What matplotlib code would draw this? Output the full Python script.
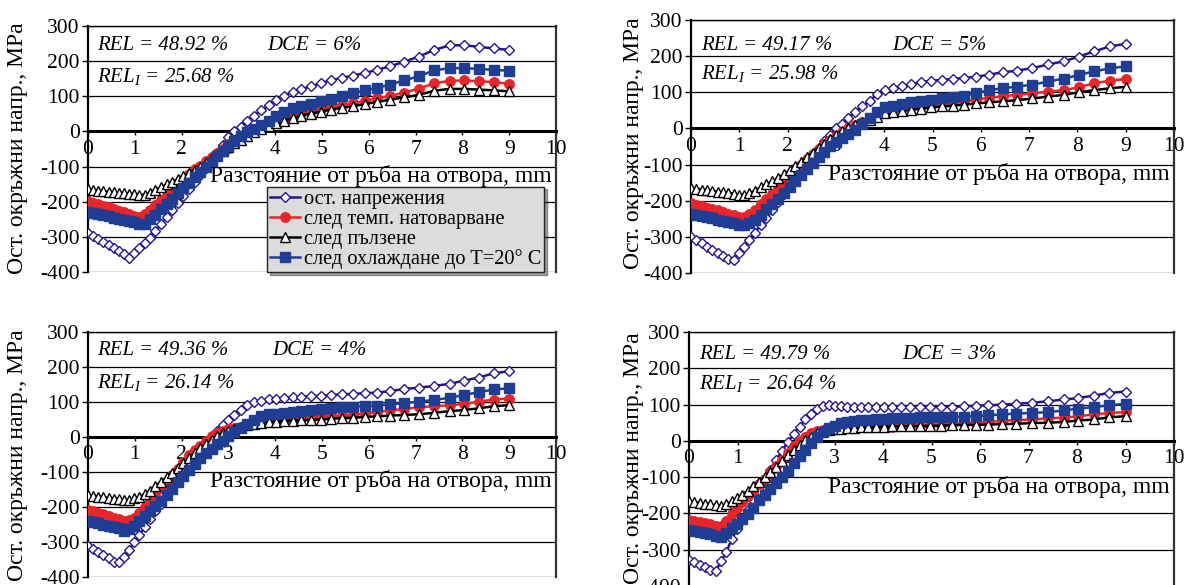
import matplotlib
matplotlib.use('Agg')
import matplotlib.pyplot as plt

plt.rcParams['font.family'] = ['Liberation Serif', 'DejaVu Serif']
plt.rcParams['mathtext.fontset'] = 'custom'
plt.rcParams['mathtext.rm'] = 'Liberation Serif'
plt.rcParams['mathtext.it'] = 'Liberation Serif:italic'
plt.rcParams['axes.unicode_minus'] = False

# distance from the hole edge, mm
x = [0.00, 0.11, 0.22, 0.33, 0.44, 0.55, 0.66, 0.77, 0.88, 0.99, 1.10, 1.21, 1.32,
     1.44, 1.56, 1.68, 1.80, 1.92, 2.04, 2.16, 2.28, 2.40, 2.52, 2.64, 2.76, 2.88, 3.00,
     3.13, 3.26, 3.40, 3.55, 3.70, 3.86, 4.02, 4.19, 4.37, 4.56, 4.76, 4.97,
     5.19, 5.42, 5.66, 5.91, 6.17, 6.45, 6.75, 7.07, 7.40, 7.73, 8.03, 8.35, 8.67, 9.00]

labels = ['ост. напрежения', 'след темп. натоварване', 'след пълзене',
          'след охлаждане до T=20° C']

# DCE = 6%
p1_ost = [-289, -297, -306, -315, -324, -332, -341, -350, -359, -346, -332, -318, -302,
          -284, -264, -244, -224, -204, -184, -164, -144, -124, -104, -82, -60, -39, -17,
          0, 14, 30, 45, 60, 74, 90, 102, 113, 121, 128, 137,
          146, 152, 159, 166, 175, 185, 198, 213, 232, 245, 245, 241, 236, 232]
p1_temp = [-198, -203, -207, -212, -216, -221, -225, -230, -235, -240, -244, -235, -223,
           -210, -196, -181, -166, -150, -134, -120, -108, -97, -85, -73, -61, -49, -37,
           -26, -16, -6, 4, 13, 22, 30, 38, 46, 52, 58, 63,
           69, 74, 80, 87, 94, 101, 110, 122, 137, 144, 145, 143, 140, 136]
p1_creep = [-165, -167, -169, -170, -172, -173, -175, -176, -178, -179, -181, -180, -174,
            -166, -158, -151, -143, -136, -128, -119, -110, -100, -89, -77, -66, -55, -44,
            -33, -23, -13, -3, 6, 15, 23, 31, 38, 45, 51, 56,
            62, 67, 72, 78, 84, 90, 97, 104, 116, 121, 121, 119, 117, 114]
p1_cool = [-230, -233, -236, -239, -242, -245, -248, -251, -255, -259, -262, -262, -250,
           -237, -222, -207, -191, -176, -160, -146, -131, -116, -101, -86, -71, -56, -41,
           -27, -14, -3, 7, 17, 30, 43, 56, 66, 73, 78, 86,
           93, 101, 108, 117, 124, 133, 145, 157, 174, 180, 180, 178, 175, 173]

# DCE = 5%
p2_ost = [-300, -309, -318, -327, -336, -345, -353, -361, -364, -345, -327, -308, -289,
          -268, -248, -226, -204, -182, -160, -138, -117, -96, -75, -55, -36, -17, 0,
          13, 30, 45, 61, 77, 95, 106, 112, 117, 123, 128, 132,
          134, 137, 140, 143, 149, 155, 160, 167, 177, 186, 199, 213, 227, 234]
p2_temp = [-207, -211, -215, -219, -223, -227, -231, -236, -240, -244, -246, -236, -226,
           -208, -196, -182, -166, -149, -132, -116, -100, -84, -70, -56, -44, -32, -20,
           -9, 1, 10, 19, 28, 40, 49, 53, 57, 60, 63, 66,
           68, 72, 76, 80, 85, 89, 93, 97, 102, 106, 114, 125, 132, 137]
p2_creep = [-165, -167, -169, -171, -173, -175, -177, -179, -181, -183, -184, -180, -172,
            -163, -155, -146, -137, -127, -116, -105, -93, -80, -67, -54, -42, -30, -18,
            -7, 2, 10, 18, 24, 33, 42, 46, 49, 52, 55, 58,
            61, 63, 66, 69, 72, 75, 78, 83, 88, 93, 100, 106, 111, 115]
p2_cool = [-237, -240, -243, -246, -249, -252, -255, -258, -262, -266, -268, -262, -254,
           -240, -224, -209, -194, -178, -161, -145, -128, -112, -96, -80, -64, -49, -37,
           -27, -16, -4, 12, 28, 45, 58, 63, 68, 73, 77, 80,
           83, 86, 91, 98, 106, 111, 116, 121, 130, 138, 148, 158, 166, 172]

# DCE = 4%
p3_ost = [-310, -319, -329, -338, -347, -357, -358, -344, -323, -301, -280, -257, -234,
          -212, -190, -167, -143, -120, -97, -77, -56, -38, -21, -2, 16, 33, 50,
          64, 78, 92, 100, 104, 108, 110, 112, 113, 115, 117, 118,
          120, 122, 123, 125, 127, 131, 137, 141, 146, 152, 161, 170, 182, 188]
p3_temp = [-208, -212, -217, -221, -226, -230, -235, -241, -238, -230, -217, -199, -183,
           -165, -146, -128, -109, -90, -70, -52, -38, -25, -12, 2, 12, 18, 22,
           26, 30, 34, 38, 41, 44, 47, 49, 51, 53, 55, 57,
           59, 61, 64, 67, 71, 76, 80, 85, 88, 91, 94, 101, 107, 110]
p3_creep = [-167, -169, -170, -172, -174, -176, -178, -180, -180, -175, -170, -163, -153,
            -141, -128, -115, -102, -89, -74, -60, -46, -32, -20, -8, 3, 12, 18,
            24, 29, 34, 38, 41, 43, 44, 46, 47, 48, 49, 50,
            52, 54, 55, 57, 59, 61, 63, 65, 69, 74, 77, 82, 88, 91]
p3_cool = [-241, -244, -247, -250, -253, -257, -261, -268, -263, -254, -240, -226, -211,
           -198, -182, -166, -148, -128, -110, -93, -76, -61, -47, -33, -21, -10, 2,
           14, 25, 38, 50, 60, 65, 67, 69, 71, 73, 76, 79,
           82, 85, 87, 88, 90, 93, 97, 101, 106, 112, 120, 128, 136, 139]

# DCE = 3%
p4_ost = [-327, -334, -341, -348, -355, -360, -332, -306, -271, -244, -217, -190, -163,
          -135, -107, -80, -52, -27, -3, 19, 39, 59, 75, 87, 95, 98, 96,
          95, 94, 94, 94, 94, 94, 94, 94, 94, 94, 94, 94,
          94, 94, 95, 97, 98, 100, 102, 105, 109, 114, 118, 125, 132, 136]
p4_temp = [-217, -220, -224, -227, -230, -234, -235, -221, -201, -184, -168, -153, -137,
           -120, -104, -87, -69, -52, -33, -15, 0, 12, 22, 28, 31, 33, 34,
           35, 36, 36, 37, 37, 38, 38, 39, 40, 41, 42, 43,
           45, 46, 48, 50, 52, 55, 57, 59, 62, 64, 68, 73, 77, 79]
p4_creep = [-166, -168, -171, -173, -175, -178, -180, -175, -167, -158, -148, -137, -125,
            -113, -100, -86, -71, -55, -40, -26, -12, 1, 12, 21, 27, 30, 32,
            34, 35, 36, 37, 38, 39, 39, 40, 40, 41, 41, 41,
            42, 43, 44, 44, 45, 46, 47, 49, 50, 52, 56, 59, 65, 68]
p4_cool = [-246, -249, -252, -255, -258, -262, -264, -255, -241, -228, -214, -201, -185,
           -164, -149, -134, -117, -100, -82, -62, -42, -24, -7, 10, 24, 35, 42,
           48, 52, 55, 57, 58, 59, 61, 62, 63, 64, 65, 65,
           66, 66, 67, 68, 70, 73, 75, 77, 79, 84, 89, 93, 98, 102]

rel = ['48.92', '49.17', '49.36', '49.79']
rel_1 = ['25.68', '25.98', '26.14', '26.64']
dce = ['6', '5', '4', '3']

W, H = 1184, 585
fig = plt.figure(figsize=(W / 100, H / 100), dpi=100)

styles = [
    dict(color='#24168a', marker='D', ms=5.4, mfc='white', mec='#24168a', mew=1.0),
    dict(color='#e8262a', marker='o', ms=6.8, mfc='#e8262a', mec='#e8262a'),
    dict(color='black', marker='^', ms=7, mfc='white', mec='black', mew=1.0),
    dict(color='#1f3d93', marker='s', ms=6.8, mfc='#1f3d93', mec='#1f3d93'),
]

# panel boxes in pixels: left, right, top, bottom
boxes = [(88, 556, 26, 272), (691, 1174, 20, 273),
         (88, 556, 332, 577), (689, 1174, 332, 586)]
ylab_pos = [(18, 148), (633, 143), (18, 455), (633, 458)]
rel_y = [(233, 142), (217, 138), (233, 140), (226, 144)]
dce_x = [3.83, 4.16, 3.93, 4.4]
panels = [
    (p1_ost, p1_temp, p1_creep, p1_cool),
    (p2_ost, p2_temp, p2_creep, p2_cool),
    (p3_ost, p3_temp, p3_creep, p3_cool),
    (p4_ost, p4_temp, p4_creep, p4_cool),
]

for i, (box, series) in enumerate(zip(boxes, panels)):
    l, r, t, b = box
    ax = fig.add_axes([l / W, 1 - b / H, (r - l) / W, (b - t) / H])
    ax.set_xlim(0, 10)
    ax.set_ylim(-400, 300)

    for y in range(-400, 301, 100):
        ax.axhline(y, color='black', lw=0.9, zorder=1)

    for ys, st, lab in zip(series, styles, labels):
        ax.plot(x, ys, lw=1.8, label=lab, zorder=3, **st)

    ax.spines['bottom'].set_position(('data', 0))
    ax.spines['bottom'].set_linewidth(2.2)
    ax.spines['left'].set_linewidth(1.6)
    ax.spines['top'].set_linewidth(1.0)
    ax.spines['right'].set_linewidth(1.6)
    ax.spines['right'].set_color('#333333')

    ax.set_xticks(range(0, 11))
    ax.set_yticks(range(-400, 301, 100))
    ax.tick_params(axis='x', direction='out', length=3, width=1, pad=3, labelsize=15.5)
    ax.tick_params(axis='y', direction='out', length=4, width=1, pad=2, labelsize=15.5)

    ax.text(9.9, -127, 'Разстояние от ръба на отвора, mm', ha='right', va='center',
            fontsize=17, zorder=4)

    y0, y1 = rel_y[i]
    ax.text(0.2, y0, 'REL = ' + rel[i] + ' %', fontstyle='italic', fontsize=15,
            va='baseline', zorder=4)
    ax.text(0.2, y1, 'REL$_I$ = ' + rel_1[i] + ' %', fontstyle='italic', fontsize=15,
            va='baseline', zorder=4)
    ax.text(dce_x[i], y0, 'DCE = ' + dce[i] + '%', fontstyle='italic', fontsize=15,
            va='baseline', zorder=4)

    px, py = ylab_pos[i]
    fig.text(px / W, 1 - py / H, 'Ост. окръжни напр., MPa', rotation=90,
             ha='center', va='center', fontsize=17)

    if i == 0:
        leg = ax.legend(loc='upper left', bbox_to_anchor=(0.382, 0.347),
                        borderaxespad=0, fontsize=14.7, handlelength=1.5,
                        handletextpad=0.15, labelspacing=0.03, borderpad=0.15,
                        numpoints=1, fancybox=False, shadow=True,
                        facecolor='#dcdcdc', edgecolor='#222222', framealpha=1)
        leg.get_frame().set_linewidth(1.0)
        leg.set_zorder(5)

fig.savefig('out.png', dpi=100)
